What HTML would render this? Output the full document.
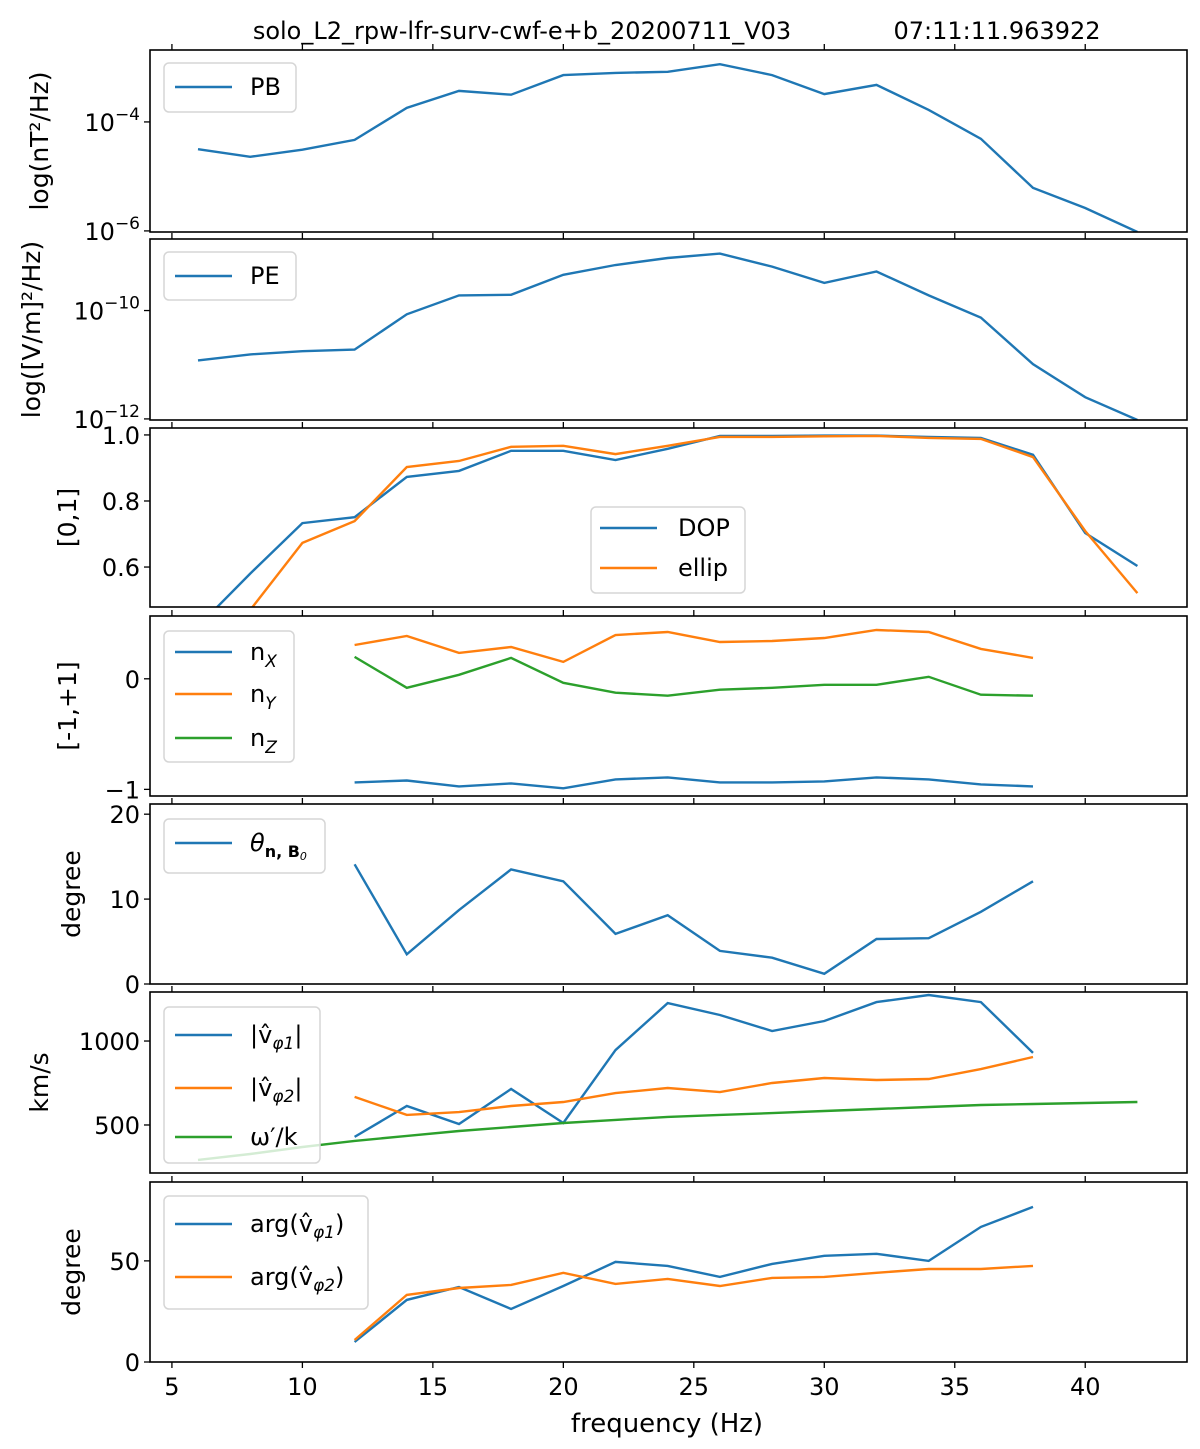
<!DOCTYPE html>
<html><head><meta charset="utf-8"><style>
body{margin:0;background:#fff;}
svg{display:block;font-family:"DejaVu Sans","Liberation Sans",sans-serif;}
</style></head><body>
<svg id="chart" width="1200" height="1449" viewBox="0 0 1200 1449" xmlns="http://www.w3.org/2000/svg">
<text x="522" y="39" font-size="24" text-anchor="middle">solo_L2_rpw-lfr-surv-cwf-e+b_20200711_V03</text>
<text x="997" y="39" font-size="24" text-anchor="middle">07:11:11.963922</text>
<text x="667" y="1432" font-size="26" text-anchor="middle">frequency (Hz)</text>
</svg>
<script>
const freqAll=[6,8,10,12,14,16,18,20,22,24,26,28,30,32,34,36,38,40,42];
const freqMid=[12,14,16,18,20,22,24,26,28,30,32,34,36,38];
const xTicks=[5,10,15,20,25,30,35,40];
const pbLog=[-4.50,-4.64,-4.51,-4.33,-3.74,-3.43,-3.50,-3.14,-3.10,-3.08,-2.94,-3.14,-3.49,-3.32,-3.78,-4.31,-5.21,-5.58,-6.02];
const peLog=[-10.92,-10.81,-10.75,-10.72,-10.07,-9.72,-9.71,-9.34,-9.16,-9.03,-8.95,-9.19,-9.49,-9.28,-9.72,-10.13,-10.99,-11.60,-12.02];
const dop=[0.42,0.58,0.733,0.751,0.873,0.891,0.952,0.952,0.924,0.958,0.997,0.997,0.998,0.998,0.994,0.991,0.94,0.703,0.603];
const ellip=[0.30,0.47,0.673,0.739,0.903,0.921,0.964,0.967,0.942,0.967,0.994,0.994,0.996,0.997,0.991,0.988,0.933,0.709,0.521];
const nX=[-0.937,-0.92,-0.973,-0.946,-0.99,-0.91,-0.892,-0.937,-0.937,-0.928,-0.892,-0.91,-0.955,-0.973];
const nY=[0.306,0.387,0.234,0.288,0.153,0.396,0.423,0.333,0.342,0.369,0.441,0.423,0.27,0.189];
const nZ=[0.198,-0.081,0.036,0.189,-0.036,-0.126,-0.153,-0.099,-0.081,-0.054,-0.054,0.018,-0.144,-0.153];
const theta=[14.1,3.5,8.7,13.5,12.1,5.9,8.1,3.9,3.1,1.2,5.3,5.4,8.5,12.1];
const v1=[429,613,506,714,512,946,1226,1155,1060,1119,1232,1274,1232,929];
const v2=[667,560,577,613,637,690,720,696,750,780,768,774,833,905];
const wk=[292,327,369,405,435,464,488,512,530,548,560,571,583,595,607,619,625,631,637];
const arg1=[9.9,30.7,37.1,26.2,37.6,49.5,47.5,42.1,48.5,52.5,53.5,50,66.8,76.7];
const arg2=[10.9,33.2,36.6,38.1,44.1,38.6,41.1,37.6,41.6,42.1,44.1,46,46,47.5];

const NS='http://www.w3.org/2000/svg';
const svg=document.getElementById('chart');
const X0=150,X1=1187,F0=4.16,F1=43.9;
const xs=f=>X0+(f-F0)/(F1-F0)*(X1-X0);
const BLUE='#1f77b4',ORANGE='#ff7f0e',GREEN='#2ca02c';
function mk(tag,attrs,parent){const e=document.createElementNS(NS,tag);for(const k in attrs)e.setAttribute(k,attrs[k]);(parent||svg).appendChild(e);return e;}

const panels=[
 {name:'pb',top:50,bot:232,lo:-6.02,hi:-2.68,ylabel:'log(nT²/Hz)',labx:48,ticks:[-4,-6],tl:t=>['10','−'+(-t)],log:true,
  series:[{f:freqAll,v:pbLog,c:BLUE,n:'pb-line'}],
  legend:{x:164,y:63,w:132,h:49,entries:[{c:BLUE,t:'PB',y:87}],lx:175,tx:250}},
 {name:'pe',top:239,bot:420,lo:-12.02,hi:-8.68,ylabel:'log([V/m]²/Hz)',labx:40,ticks:[-10,-12],tl:t=>['10','−'+(-t)],log:true,
  series:[{f:freqAll,v:peLog,c:BLUE,n:'pe-line'}],
  legend:{x:164,y:252,w:132,h:48,entries:[{c:BLUE,t:'PE',y:276}],lx:175,tx:250}},
 {name:'dop',top:428,bot:607,lo:0.479,hi:1.021,ylabel:'[0,1]',labx:76,ticks:[1.0,0.8,0.6],tl:t=>t.toFixed(1),
  series:[{f:freqAll,v:dop,c:BLUE,n:'dop-line'},{f:freqAll,v:ellip,c:ORANGE,n:'ellip-line'}],
  legend:{x:591,y:507,w:154,h:86,entries:[{c:BLUE,t:'DOP',y:528},{c:ORANGE,t:'ellip',y:568}],lx:600,tx:678}},
 {name:'n',top:616,bot:796,lo:-1.06,hi:0.568,ylabel:'[-1,+1]',labx:76,ticks:[0,-1],tl:t=>t===0?'0':'−1',
  series:[{f:freqMid,v:nX,c:BLUE,n:'nx-line'},{f:freqMid,v:nY,c:ORANGE,n:'ny-line'},{f:freqMid,v:nZ,c:GREEN,n:'nz-line'}],
  legend:{x:164,y:631,w:130,h:131,entries:[{c:BLUE,t:'n',s:'X',y:652},{c:ORANGE,t:'n',s:'Y',y:694},{c:GREEN,t:'n',s:'Z',y:738}],lx:175,tx:250}},
 {name:'theta',top:804,bot:984,lo:0,hi:21.2,ylabel:'degree',labx:80,ticks:[20,10,0],tl:t=>String(t),
  series:[{f:freqMid,v:theta,c:BLUE,n:'theta-line'}],
  legend:{x:164,y:819,w:161,h:54,entries:[{c:BLUE,t:'θ',theta:true,y:843}],lx:175,tx:250}},
 {name:'vphi',top:992,bot:1173,lo:214,hi:1292,ylabel:'km/s',labx:48,ticks:[1000,500],tl:t=>String(t),
  series:[{f:freqMid,v:v1,c:BLUE,n:'vphi1-line'},{f:freqMid,v:v2,c:ORANGE,n:'vphi2-line'},{f:freqAll,v:wk,c:GREEN,n:'omega-k-line'}],
  legend:{x:164,y:1007,w:156,h:156,entries:[{c:BLUE,t:'|v̂',sub:'φ1',end:'|',y:1035},{c:ORANGE,t:'|v̂',sub:'φ2',end:'|',y:1088},{c:GREEN,t:"ω′/k",y:1137}],lx:175,tx:250}},
 {name:'arg',top:1182,bot:1362,lo:0,hi:89,ylabel:'degree',labx:80,ticks:[50,0],tl:t=>String(t),
  series:[{f:freqMid,v:arg1,c:BLUE,n:'arg1-line'},{f:freqMid,v:arg2,c:ORANGE,n:'arg2-line'}],
  legend:{x:164,y:1196,w:204,h:113,entries:[{c:BLUE,t:'arg(v̂',sub:'φ1',end:')',y:1224},{c:ORANGE,t:'arg(v̂',sub:'φ2',end:')',y:1277}],lx:175,tx:250}}
];

panels.forEach((p,pi)=>{
  const g=mk('g',{});
  
  
  const ys=v=>p.bot-(v-p.lo)/(p.hi-p.lo)*(p.bot-p.top);
  const cp=mk('clipPath',{id:'clip'+pi},g);
  mk('rect',{x:X0,y:p.top,width:X1-X0,height:p.bot-p.top},cp);
  p.series.forEach(s=>{
    const pts=s.f.map((f,i)=>xs(f).toFixed(1)+','+ys(s.v[i]).toFixed(1)).join(' ');
    const l=mk('polyline',{points:pts,fill:'none',stroke:s.c,'stroke-width':2.4,'clip-path':'url(#clip'+pi+')'},g);
    
    
  });
  const L=p.legend;
  const lg=mk('g',{},g);
  
  
  mk('rect',{x:L.x,y:L.y,width:L.w,height:L.h,rx:5,fill:'#fff','fill-opacity':0.8,stroke:'#d6d6d6','stroke-width':1.5},lg);
  L.entries.forEach(e=>{
    mk('line',{x1:L.lx,x2:L.lx+57,y1:e.y,y2:e.y,stroke:e.c,'stroke-width':2.4},lg);
    const t=mk('text',{x:L.tx,y:e.y+8,'font-size':24},lg);
    
    
    if(e.theta){
      t.setAttribute('font-style','italic');
      t.textContent='θ';
      const ts=mk('tspan',{'font-size':16,dy:6,'font-weight':'bold','font-style':'normal'},t);ts.textContent='n, B';
      const ts2=mk('tspan',{'font-size':11,dy:3},t);ts2.textContent='0';
    } else {
      t.textContent=e.t;
      if(e.s){const ts=mk('tspan',{'font-size':17,dy:7,'font-style':'italic'},t);ts.textContent=e.s;}
      if(e.sub){const ts=mk('tspan',{'font-size':17,dy:6,'font-style':'italic'},t);ts.textContent=e.sub;
        const te=mk('tspan',{dy:-6},t);te.textContent=e.end;}
    }
  });
  mk('rect',{x:X0,y:p.top,width:X1-X0,height:p.bot-p.top,fill:'none',stroke:'#000','stroke-width':1.6},g);
  xTicks.forEach(f=>{
    mk('line',{x1:xs(f),x2:xs(f),y1:p.top,y2:p.top-6,stroke:'#000','stroke-width':1.3},g);
    if(pi===panels.length-1){
      mk('line',{x1:xs(f),x2:xs(f),y1:p.bot,y2:p.bot+6,stroke:'#000','stroke-width':1.3},g);
      const t=mk('text',{x:xs(f),y:p.bot+33,'font-size':24,'text-anchor':'middle'},g);
      
      
      t.textContent=String(f);
    }
  });
  p.ticks.forEach(v=>{
    const y=ys(v);
    mk('line',{x1:X0,x2:X0-6,y1:y,y2:y,stroke:'#000','stroke-width':1.3},g);
    const t=mk('text',{x:X0-10,y:y+9,'font-size':24,'text-anchor':'end'},g);
    
    
    const lab=p.tl(v);
    if(Array.isArray(lab)){
      t.textContent=lab[0];
      const sp=mk('tspan',{'font-size':17,dy:-11},t);sp.textContent=lab[1];
    } else t.textContent=lab;
  });
  const cy=(p.top+p.bot)/2;
  const yl=mk('text',{x:p.labx,y:cy,'font-size':25,'text-anchor':'middle',transform:'rotate(-90 '+p.labx+' '+cy+')'},g);
  
  
  yl.textContent=p.ylabel;
});
</script>
</body></html>
